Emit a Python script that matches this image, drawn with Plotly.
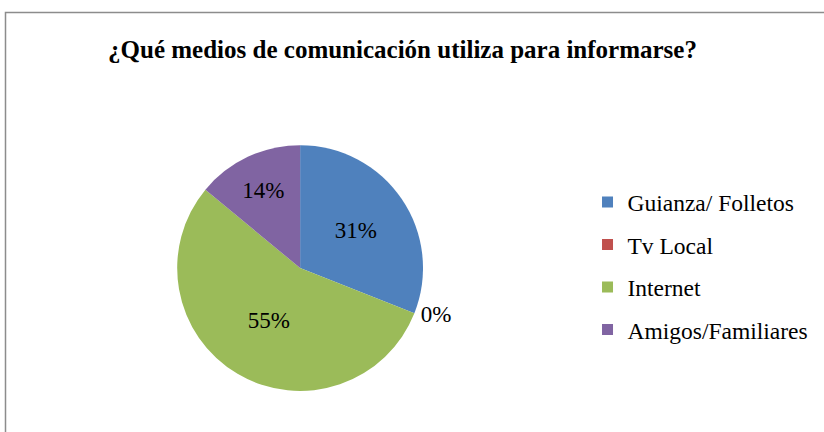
import plotly.graph_objects as go

title = "¿Qué medios de comunicación utiliza para informarse?"
labels = ["Guianza/ Folletos", "Tv Local", "Internet", "Amigos/Familiares"]
values = [31, 0, 55, 14]
colors = ["#4F81BD", "#C0504D", "#9BBB59", "#8064A2"]
text_pos = ["inside", "outside", "inside", "inside"]

FONT = "Liberation Serif"

fig = go.Figure()
fig.add_trace(go.Pie(
    labels=labels, values=values, sort=False, direction="clockwise", rotation=0,
    marker=dict(colors=colors, line=dict(width=0)),
    texttemplate="%{percent:.0%}", textposition=text_pos,
    textfont=dict(family=FONT, size=23, color="black"),
    insidetextorientation="horizontal",
    showlegend=False, hoverinfo="label+percent",
    domain=dict(x=[0.2125, 0.5159], y=[0.095, 0.664]),
))
for lab, col in zip(labels, colors):
    fig.add_trace(go.Scatter(
        x=[None], y=[None], mode="markers", name=lab, legendgroup=lab,
        marker=dict(symbol="square", size=11, color=col),
    ))

fig.update_layout(
    width=824, height=432,
    margin=dict(l=0, r=0, t=0, b=0),
    font=dict(family=FONT, color="black"),
    paper_bgcolor="white", plot_bgcolor="white",
    title=dict(text="<b>" + title + "</b>", x=0.4885, xanchor="center", y=0.885, yanchor="middle",
               font=dict(family=FONT, size=25, color="black")),
    xaxis=dict(visible=False), yaxis=dict(visible=False),
    legend=dict(x=0.713, y=0.384, xanchor="left", yanchor="middle",
                font=dict(family=FONT, size=23.5, color="black"),
                tracegroupgap=9, traceorder="grouped", bgcolor="rgba(0,0,0,0)"),
    shapes=[dict(type="rect", xref="paper", yref="paper", x0=5.5/824, x1=1.02, y0=-0.02, y1=1 - 12.5/432,
                 line=dict(color="#8C8C8C", width=1.5), layer="below")],
)
fig.write_html("out.html", config={"displayModeBar": False},
               post_script="document.body.style.margin='0';")
